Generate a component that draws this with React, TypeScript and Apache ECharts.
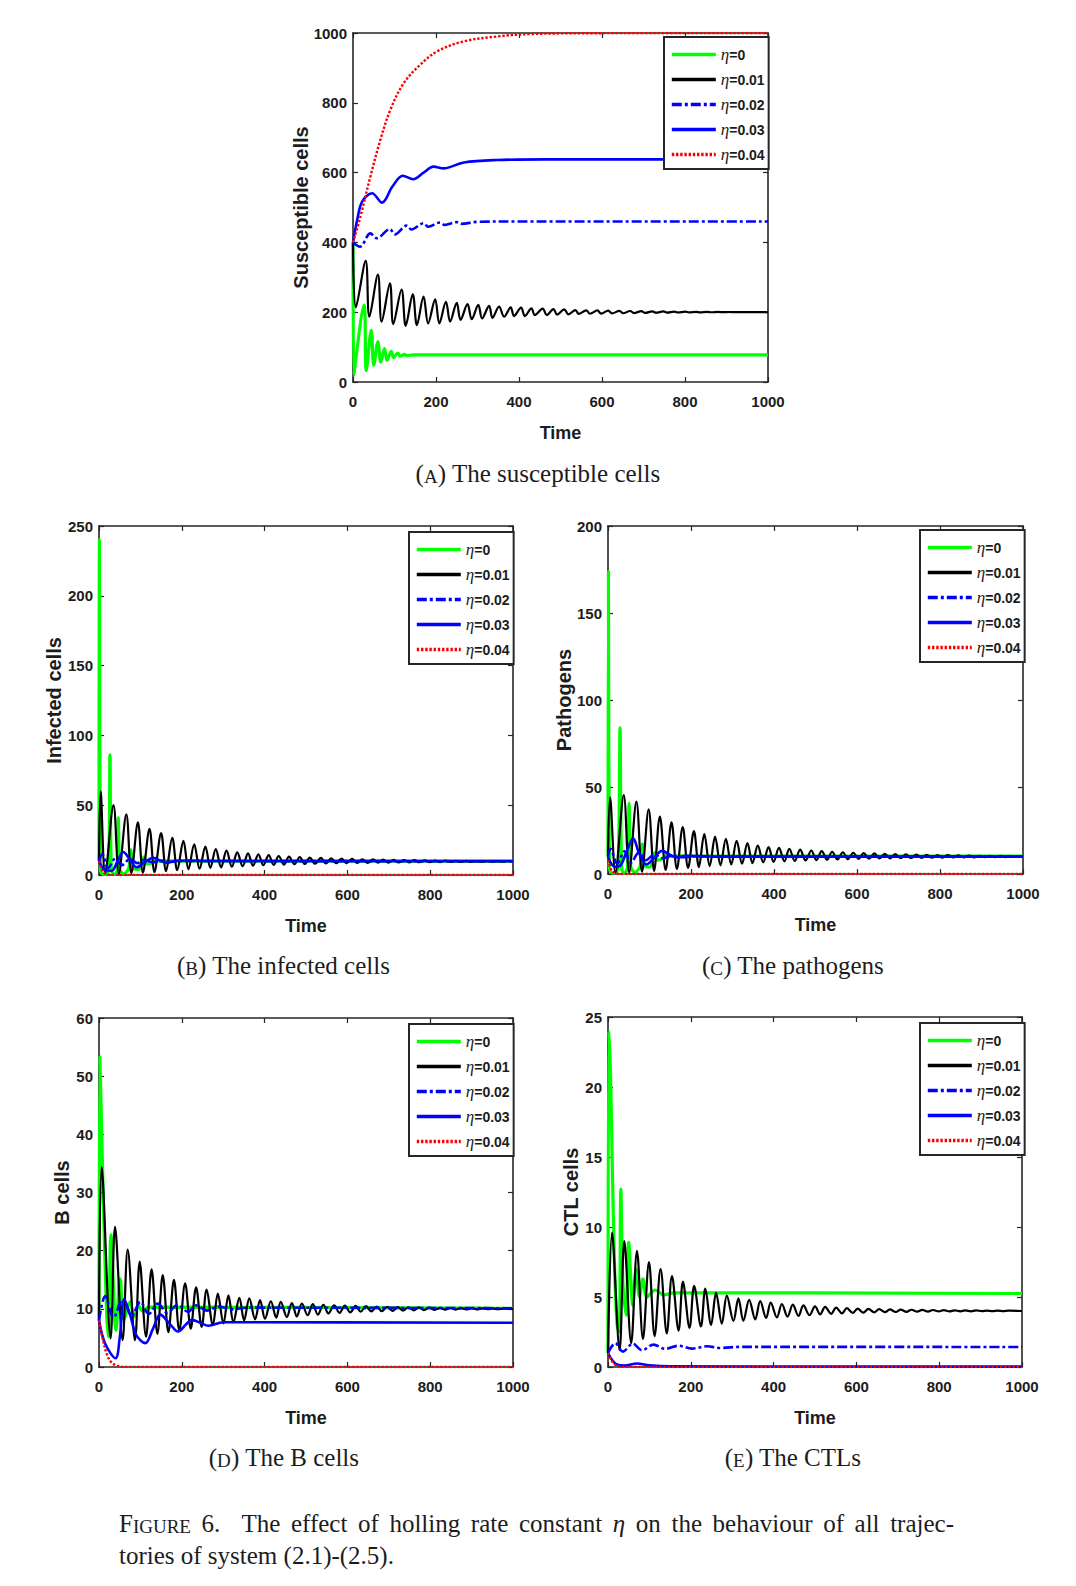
import React, { useEffect, useRef } from "react";
import * as echarts from "echarts";

type P = [number, number][];

// ---------- Panel A: susceptible cells ----------
const sGreen: P = [[0,400],[2,20],[26.5,220],[32,33],[44,148],[50,48],[60,115],[67,57],[76,96],[82,62],[92,88],[98,70],[108,83],[114,74],[124,79],[130,75.6],[145,77.5],[1000,77.5]];
const sBlack: P = [[0,400],[7,214],[30.5,347],[39.5,187],[60,308],[69,173],[89,283],[97,166],[117,265],[127,161],[144,251],[154,163],[170,245],[181,168],[198,237],[208,168],[224,230],[234,173],[250,227],[259,178],[276,223],[286,180],[302,221],[311,182],[328,218],[336,184],[352,216],[364,187],[380,214],[388,189],[405,213],[414,189],[430,211],[438,192],[457,210],[467,192],[483,209],[492,193],[509,208],[519,194],[536,206],[544,195],[562,205.5],[571,195.5],[589,205],[598,196],[615,204.5],[624,196.5],[642,204],[651,197],[668,203.5],[677,197.5],[695,203],[704,198],[721,202.5],[730,198.5],[748,202.2],[757,198.8],[774,201.8],[783,199.1],[801,201.5],[810,199.4],[827,201.2],[836,199.6],[854,201],[863,199.8],[880,200.8],[889,200],[907,200.6],[916,200.1],[933,200.4],[960,200.3],[1000,200.2]];
const sDash: P = [[0,400],[17,388],[42,426],[57,412],[89,438],[101,423],[129,448],[141,437],[170,455],[181,445],[210,457],[221,450],[250,458],[261,453],[300,459],[400,460],[1000,460]];
const sBlue: P = [[0,400],[10,464],[22,517],[46,541],[70,514],[95,560],[120,591],[145,581],[170,600],[194,617],[218,612],[267,629],[347,636],[467,638],[1000,638]];
const sRed: P = [[0,400],[18,474],[42,589],[66,694],[90,780],[122,856],[162,909],[202,947],[267,976],[347,990],[427,997],[600,999.5],[1000,1000]];

// ---------- Panel B: infected cells ----------
const iGreen: P = [[0,10],[1,240],[3.5,3],[12,0.5],[23,3],[26.5,86],[30,3],[38,0.5],[44,4],[46.7,41],[50,4],[60,1],[72,5],[77,18],[83,5],[95,4],[104,9],[109,13],[116,8],[128,8.5],[138,11],[150,9.6],[170,10.2],[200,9.9],[1000,10]];
const iBlack: P = [[0,10],[4,60],[15,0.8],[35,50],[48,1],[66,43.5],[78,1.3],[94,37.7],[106,1.7],[122,33],[134,2.2],[150,30],[162,2.8],[177,26.7],[189,3.4],[204,24.4],[216,4],[230,22],[243,4.5],[257,20.3],[269,5],[282,18.6],[295,5.5],[308,17.4],[321,5.9],[334,16.2],[347,6.3],[360,15.5],[372,6.7],[385,14.8],[397,7],[410,14.3],[422,7.3],[434,13.6],[447,7.5],[459,13.1],[472,7.7],[485,12.9],[497,7.9],[509,12.4],[522,8.1],[536,12.2],[548,8.3],[561,12],[573,8.4],[586,11.7],[598,8.5],[611,11.5],[624,8.6],[636,11.3],[649,8.7],[662,11.2],[674,8.8],[686,11],[699,8.9],[712,10.9],[724,9],[737,10.7],[749,9.1],[762,10.6],[774,9.15],[787,10.5],[799,9.2],[812,10.4],[824,9.25],[837,10.3],[849,9.3],[862,10.2],[874,9.35],[887,10.1],[899,9.4],[912,10],[924,9.45],[937,10],[949,9.5],[962,9.9],[974,9.5],[987,9.9],[1000,9.7]];
const iDash: P = [[0,10],[8,15],[22,5],[40,12],[55,7],[75,11.5],[92,8.5],[110,10.8],[130,9],[150,10.3],[175,9.5],[200,10],[1000,9.8]];
const iBlue: P = [[0,10],[5,7],[15,3.5],[30,3],[45,10],[58.7,16.5],[75,11],[91,5.5],[110,9],[131,12.4],[150,10],[163,8.8],[190,10.2],[220,10.4],[260,10],[1000,10]];
const iRed: P = [[0,10],[5,5],[10,2],[20,0.5],[40,0.1],[1000,0]];

// ---------- Panel C: pathogens ----------
const pGreen: P = [[0,10],[1,174],[3.5,3],[12,0.5],[24,3],[29,84],[33,3],[40,0.5],[47,4],[50.8,40.6],[55,4],[65,1],[78,5],[83,17.2],[88,5],[100,4],[109,9],[113,12.2],[120,8],[132,9],[142,11],[155,10],[175,10.5],[200,10.3],[1000,10.3]];
const pBlack: P = [[0,10],[5,44],[18,0.8],[38,45.4],[51,1],[68.5,41.6],[82,1.3],[98,37.2],[111,1.8],[125,33],[139,2.3],[153,29.7],[166,2.9],[180,26.9],[193,3.5],[207,24.7],[219,4],[232,23],[245,4.5],[258,21.5],[271,5],[284,20.2],[297,5.5],[310,19.1],[323,5.9],[336,17.8],[348,6.3],[361,16.3],[374,6.7],[387,15.4],[399,7],[412,15],[425,7.3],[437,14.4],[450,7.5],[463,14],[476,7.8],[490,13.5],[502,8],[515,13.1],[528,8.2],[540,12.8],[553,8.4],[566,12.5],[578,8.5],[591,12.2],[604,8.7],[616,12],[629,8.8],[642,11.8],[654,8.9],[667,11.6],[680,9],[692,11.4],[705,9.1],[718,11.3],[730,9.2],[743,11.1],[756,9.3],[768,11],[781,9.35],[794,10.9],[806,9.4],[819,10.8],[832,9.5],[844,10.7],[857,9.55],[870,10.6],[882,9.6],[895,10.5],[908,9.65],[920,10.45],[933,9.7],[946,10.4],[958,9.75],[971,10.35],[984,9.8],[996,10.3],[1000,10.2]];
const pDash: P = [[0,10],[6,14.5],[22,6],[40,13],[55,6.5],[75,12.5],[92,8],[112,11.2],[132,9],[155,10.6],[180,9.6],[210,10.1],[1000,10]];
const pBlue: P = [[0,10],[5,7],[16,4.2],[30,5],[45,13],[60.4,20.5],[75,12],[92.6,5.5],[110,9],[130,13.3],[150,11],[165,9.5],[190,10.5],[220,10.3],[260,10],[1000,10]];
const pRed: P = [[0,8],[5,4],[10,1.5],[20,0.3],[40,0],[1000,0]];

// ---------- Panel D: B cells ----------
const bGreen: P = [[0,8],[2,53.4],[5,45],[10,30],[18,10],[22.6,5.2],[29,22.7],[41,6.3],[51,15.2],[60,8],[75,11.2],[85,8.6],[95,10.6],[105,9.6],[120,10.3],[1000,10.1]];
const bBlack: P = [[0,8],[6.4,34.4],[28,4.9],[38.7,24.1],[57,4.6],[69.3,20.2],[87,4.6],[98.3,18.1],[113.6,5.2],[127,16.8],[141,5.7],[154,15.8],[167.6,6],[181,15],[194,6.3],[208,14.4],[221.6,6.6],[234.5,13.7],[248,6.9],[260,13.3],[275,7.2],[287,12.6],[300.6,7.5],[312.6,12.3],[324.7,7.7],[339,11.9],[350.5,8],[363,11.8],[377,8.2],[389,11.5],[401,8.3],[415,11.3],[428,8.5],[439,11.2],[453.7,8.6],[465.8,11],[478,8.7],[490,10.9],[504,8.9],[516.5,10.8],[528.6,9],[542,10.7],[554,9.2],[568,10.6],[581,9.3],[594,10.55],[607,9.4],[620,10.5],[632,9.5],[645,10.45],[658,9.55],[671,10.4],[683,9.6],[696,10.35],[709,9.65],[722,10.3],[734,9.7],[747,10.27],[760,9.75],[773,10.24],[785,9.78],[798,10.2],[811,9.82],[824,10.17],[836,9.85],[849,10.14],[862,9.88],[875,10.12],[887,9.9],[900,10.1],[913,9.92],[926,10.08],[938,9.94],[951,10.06],[964,9.95],[977,10.05],[1000,10]];
const bDash: P = [[0,8],[15,12.2],[35,8.5],[57,11.6],[79,8.8],[100,11.2],[120,9.1],[142,10.9],[165,9.3],[190,10.7],[215,9.5],[235,10.6],[260,9.7],[290,10.4],[320,9.9],[360,10.2],[1000,10.1]];
const bBlue: P = [[0,8],[15,4],[40,1.5],[50,5],[61,11.7],[75,9],[90,5.5],[112,4.1],[130,6.5],[148,9],[170,7.5],[191,6.1],[210,7.3],[224,8.1],[245,7.6],[264,7.1],[300,7.7],[1000,7.6]];
const bRed: P = [[0,8],[10,4.5],[20,2],[30,0.8],[45,0.2],[60,0],[1000,0]];

// ---------- Panel E: CTL cells ----------
const cGreen: P = [[0,1],[2,24],[6,21],[10,15],[16,7],[22,3],[27,2.5],[31,12.7],[36,6],[44,3.7],[50,8.9],[60,4.4],[68,7],[76,5],[84.5,6.3],[94,5],[114,5.5],[135,5.15],[160,5.3],[1000,5.25]];
const cBlack: P = [[0,1],[9.7,9.6],[28,1.2],[39.4,9],[56,1.7],[70,8.3],[84.5,2],[99,7.5],[112.6,2.2],[127,7],[142,2.4],[154.5,6.5],[170.5,2.6],[181,6.1],[197,2.8],[208,5.8],[224.5,2.9],[235,5.6],[249,3],[261,5.3],[275,3.1],[287,5.1],[303,3.3],[315,4.9],[327,3.3],[341,4.8],[355.6,3.4],[367.7,4.7],[382,3.5],[393,4.6],[408,3.55],[420,4.5],[433.6,3.6],[446.5,4.45],[460,3.65],[472,4.4],[486.7,3.7],[500,4.33],[512.5,3.76],[524.5,4.29],[539,3.8],[551,4.24],[565,3.83],[577,4.2],[591,3.86],[603,4.17],[617,3.88],[629,4.15],[643,3.9],[655,4.13],[669,3.92],[681,4.11],[695,3.93],[707,4.1],[721,3.94],[733,4.09],[747,3.95],[759,4.08],[773,3.96],[785,4.07],[799,3.97],[811,4.06],[825,3.97],[837,4.05],[851,3.98],[863,4.04],[877,3.98],[889,4.04],[903,3.99],[915,4.03],[929,3.99],[941,4.03],[955,3.99],[967,4.02],[1000,4]];
const cDash: P = [[0,1],[17.7,1.7],[36,1.1],[60,1.67],[82,1.2],[110,1.6],[138,1.3],[170.6,1.52],[203,1.31],[239,1.48],[271,1.36],[320,1.44],[1000,1.43]];
const cBlue: P = [[0,1],[10,0.5],[20,0.2],[40,0.1],[70,0.25],[100,0.12],[150,0.05],[1000,0.03]];
const cRed: P = [[0,1],[10,0.4],[20,0.1],[35,0],[1000,0]];

const ETA = ["η=0", "η=0.01", "η=0.02", "η=0.03", "η=0.04"];
const X_MAX = 1000;
const X_STEP = 200;
const CAPTION_LINE1 = ["FIGURE", "6.", "", "The", "effect", "of", "holling", "rate", "constant", "η", "on", "the", "behaviour", "of", "all", "trajec-"];
const CAPTION_LINE2 = "tories of system (2.1)-(2.5).";

// ---------- styles & layout ----------
const SANS = "'Liberation Sans', Arial, sans-serif";
const SERIF = "'Liberation Serif', 'Times New Roman', serif";
const INK = "#1c1c1c";
const AXIS = "#262626";
const COLORS = ["#00ff00", "#000000", "#0000ff", "#0000ff", "#ff0000"];
const WIDTHS = [3.2, 2.2, 2.6, 2.6, 2.4];
const TYPES: any[] = ["solid", "solid", [10, 3, 3, 3], "solid", [2.4, 1.8]];

const panels = [
  { grid: { left: 353, top: 33, width: 415, height: 349 }, yMax: 1000, yInt: 200, yName: "Susceptible cells", yGap: 42,
    data: [sGreen, sBlack, sDash, sBlue, sRed], legend: { left: 664, top: 37 }, cap: { l: "A", t: "The susceptible cells", x: 538, y: 473 } },
  { grid: { left: 99, top: 526, width: 414, height: 349 }, yMax: 250, yInt: 50, yName: "Infected cells", yGap: 35,
    data: [iGreen, iBlack, iDash, iBlue, iRed], legend: { left: 409, top: 532 }, cap: { l: "B", t: "The infected cells", x: 283.5, y: 965 } },
  { grid: { left: 608, top: 526, width: 415, height: 348 }, yMax: 200, yInt: 50, yName: "Pathogens", yGap: 34,
    data: [pGreen, pBlack, pDash, pBlue, pRed], legend: { left: 920, top: 530 }, cap: { l: "C", t: "The pathogens", x: 793, y: 965 } },
  { grid: { left: 99, top: 1018, width: 414, height: 349 }, yMax: 60, yInt: 10, yName: "B cells", yGap: 27,
    data: [bGreen, bBlack, bDash, bBlue, bRed], legend: { left: 409, top: 1024 }, cap: { l: "D", t: "The B cells", x: 284, y: 1457 } },
  { grid: { left: 608, top: 1017, width: 414, height: 350 }, yMax: 25, yInt: 5, yName: "CTL cells", yGap: 27,
    data: [cGreen, cBlack, cDash, cBlue, cRed], legend: { left: 920, top: 1023 }, cap: { l: "E", t: "The CTLs", x: 793, y: 1457 } },
];

const tickLabel = {
  fontFamily: SANS, fontSize: 15, fontWeight: "bold" as const, color: INK,
  formatter: (v: number) => String(v),
};

function buildOption(): any {
  const xAxis: any[] = [];
  const yAxis: any[] = [];
  const series: any[] = [];
  const legend: any[] = [];
  const graphic: any[] = [];

  panels.forEach((p, i) => {
    const line = { show: true, onZero: false, lineStyle: { color: AXIS, width: 1.6 } };
    const tick = { show: true, inside: true, length: 5, lineStyle: { color: AXIS, width: 1.2 } };
    xAxis.push({
      type: "value", gridIndex: i, position: "bottom", min: 0, max: X_MAX, interval: X_STEP,
      axisLine: line, axisTick: tick, splitLine: { show: false },
      axisLabel: { ...tickLabel, margin: 12 },
      name: "Time", nameLocation: "middle", nameGap: 42, nameMoveOverlap: false,
      nameTextStyle: { fontFamily: SANS, fontSize: 18, fontWeight: "bold", color: INK },
    });
    xAxis.push({
      type: "value", gridIndex: i, position: "top", min: 0, max: X_MAX, interval: X_STEP,
      axisLine: line, axisTick: tick, splitLine: { show: false }, axisLabel: { show: false },
    });
    yAxis.push({
      type: "value", gridIndex: i, position: "left", min: 0, max: p.yMax, interval: p.yInt,
      axisLine: line, axisTick: tick, splitLine: { show: false },
      axisLabel: { ...tickLabel, margin: 6 },
      name: p.yName, nameLocation: "middle", nameGap: p.yGap, nameRotate: 90, nameMoveOverlap: false,
      nameTextStyle: { fontFamily: SANS, fontSize: 20, fontWeight: "bold", color: INK },
    });
    yAxis.push({
      type: "value", gridIndex: i, position: "right", min: 0, max: p.yMax, interval: p.yInt,
      axisLine: line, axisTick: tick, splitLine: { show: false }, axisLabel: { show: false },
    });
    p.data.forEach((d, j) => {
      series.push({
        type: "line", name: ETA[j], xAxisIndex: 2 * i, yAxisIndex: 2 * i, data: d,
        symbol: "none", showSymbol: false, smooth: 0.35, silent: true, z: 2 + j,
        lineStyle: { color: COLORS[j], width: WIDTHS[j], type: TYPES[j] },
        itemStyle: { color: COLORS[j] },
      });
    });
    legend.push({
      orient: "vertical", left: p.legend.left, top: p.legend.top, data: ETA, selectedMode: false,
      z: 20, zlevel: 0,
      itemWidth: 44, itemHeight: 14, itemGap: 8, padding: [9, 4, 6, 6],
      borderColor: AXIS, borderWidth: 2, backgroundColor: "#fff",
      itemStyle: { opacity: 0 },
      lineStyle: { width: 3.6 },
      formatter: (name: string) => `{e|η}{v|${name.slice(1)}}`,
      textStyle: {
        rich: {
          e: { fontFamily: SERIF, fontStyle: "italic", fontSize: 17, color: INK, lineHeight: 16 },
          v: { fontFamily: SANS, fontSize: 14, fontWeight: "bold", color: INK, lineHeight: 16 },
        },
      },
    });
    graphic.push({
      type: "text", x: p.cap.x, y: p.cap.y, silent: true,
      style: {
        text: `{n|(}{sc|${p.cap.l}}{n|) ${p.cap.t}}`,
        align: "center", verticalAlign: "middle",
        rich: {
          n: { fontFamily: SERIF, fontSize: 25, fill: INK, verticalAlign: "bottom" },
          sc: { fontFamily: SERIF, fontSize: 19, fill: INK, verticalAlign: "bottom" },
        },
      },
    });
  });

  const capRich: any = {
    n: { fontFamily: SERIF, fontSize: 25, fill: INK, verticalAlign: "bottom" },
    sc: { fontFamily: SERIF, fontSize: 19, fill: INK, verticalAlign: "bottom" },
    e: { fontFamily: SERIF, fontStyle: "italic", fontSize: 25, fill: INK, verticalAlign: "bottom" },
    s: { fontFamily: SERIF, fontSize: 25, fill: INK, verticalAlign: "bottom", width: 10.6 },
  };
  const tokens = CAPTION_LINE1.map((w) => {
    if (w === "FIGURE") return "{n|F}{sc|IGURE}";
    if (w === "η") return "{e|η}";
    if (w === "") return "";
    return `{n|${w}}`;
  });
  graphic.push({
    type: "text", x: 119, y: 1523, silent: true,
    style: { text: tokens.join("{s| }"), align: "left", verticalAlign: "middle", rich: capRich },
  });
  graphic.push({
    type: "text", x: 119, y: 1555, silent: true,
    style: { text: `{n|${CAPTION_LINE2}}`, align: "left", verticalAlign: "middle", rich: capRich },
  });

  return {
    animation: false,
    backgroundColor: "#ffffff",
    grid: panels.map((p) => ({ ...p.grid })),
    xAxis, yAxis, series, legend, graphic,
  };
}

export default function App() {
  const ref = useRef<HTMLDivElement>(null);
  useEffect(() => {
    if (!ref.current) return;
    const chart = echarts.init(ref.current, null, { renderer: "svg" });
    chart.setOption(buildOption());
    return () => chart.dispose();
  }, []);
  return (
    <div
      ref={ref}
      style={{ position: "absolute", left: 0, top: 0, width: 1076, height: 1586, background: "#fff" }}
    />
  );
}
